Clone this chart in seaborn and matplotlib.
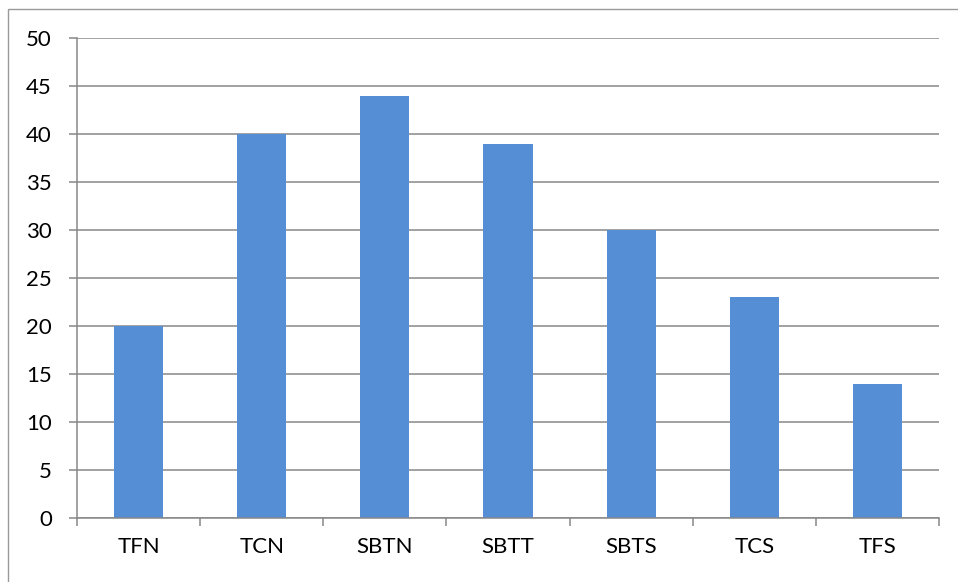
import matplotlib
matplotlib.use("Agg")
import matplotlib.pyplot as plt
import seaborn as sns
import pandas as pd
from matplotlib.patches import Rectangle

categories = ["TFN", "TCN", "SBTN", "SBTT", "SBTS", "TCS", "TFS"]
values = [20, 40, 44, 39, 30, 23, 14]
yticks = [0, 5, 10, 15, 20, 25, 30, 35, 40, 45, 50]

sns.set_theme(style="white")
plt.rcParams['font.family'] = ['Lato', 'DejaVu Sans']

W, H = 958, 582
fig = plt.figure(figsize=(W / 100, H / 100), dpi=100)
ax = fig.add_axes([77 / W, 1 - 518 / H, (939 - 77) / W, (518 - 38) / H])

df = pd.DataFrame({"cat": categories, "val": values})
sns.barplot(data=df, x="cat", y="val", order=categories, color="#558ED5",
            saturation=1, width=0.4, ax=ax, edgecolor="none")

grid_c = "#878787"
ax.set_ylim(0, 50)
ax.set_xlim(-0.5, len(categories) - 0.5)
ax.set_yticks(yticks)
ax.set_yticklabels([str(t) for t in yticks])
ax.yaxis.grid(True, color=grid_c, linewidth=1.1)
ax.set_axisbelow(True)
ax.set_xlabel("")
ax.set_ylabel("")

# x ticks at category boundaries, labels at centers
ax.set_xticks([i - 0.5 for i in range(len(categories) + 1)])
ax.set_xticklabels([])
ax.set_xticks(range(len(categories)), minor=True)
ax.set_xticklabels(categories, minor=True)
ax.tick_params(axis="x", which="major", length=6, width=1.1, color=grid_c, direction="out", bottom=True)
ax.tick_params(axis="x", which="minor", length=0, pad=14, labelsize=16, labelcolor="black")
ax.tick_params(axis="y", length=6, width=1.1, color=grid_c, direction="out", left=True,
               pad=12, labelsize=16, labelcolor="black")

for s in ["top", "right"]:
    ax.spines[s].set_visible(False)
for s in ["left", "bottom"]:
    ax.spines[s].set_visible(True)
    ax.spines[s].set_color(grid_c)
    ax.spines[s].set_linewidth(1.1)

# outer chart border (extends past right/bottom edges as in reference)
fig.patches.append(Rectangle((8 / W, -0.05), 1.1, 1 - 9 / H + 0.05, transform=fig.transFigure,
                             fill=False, edgecolor="#9a9a9a", linewidth=1.0, clip_on=False))

fig.savefig("out.png", dpi=100)
